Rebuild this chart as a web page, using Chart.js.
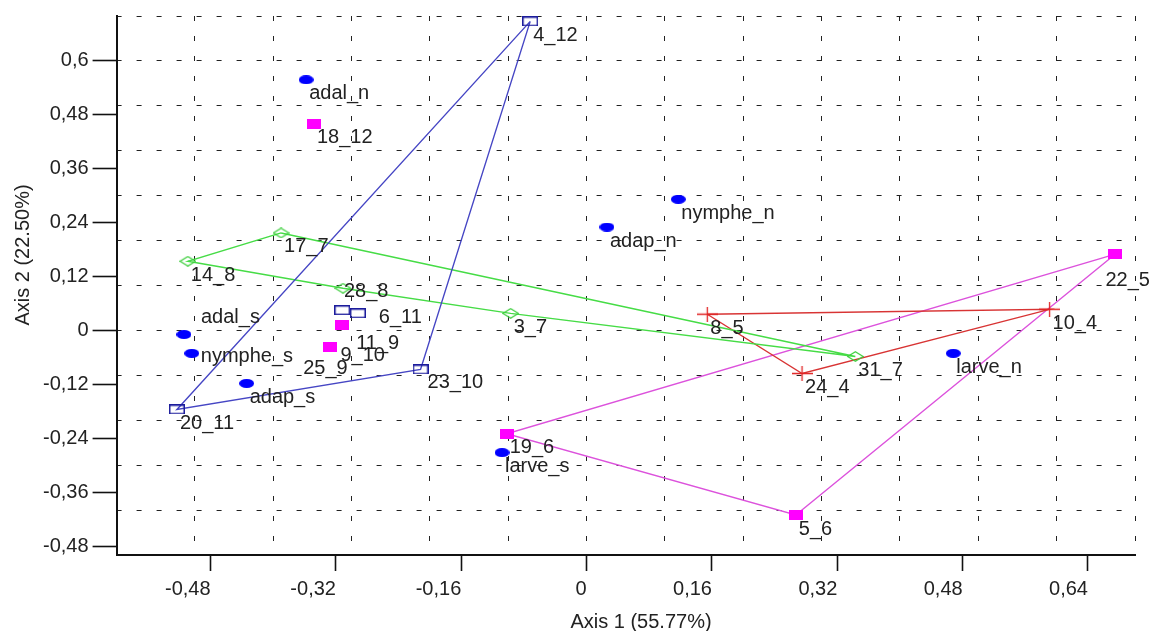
<!DOCTYPE html>
<html>
<head>
<meta charset="utf-8">
<title>Axis 1 / Axis 2</title>
<script src="https://cdn.jsdelivr.net/npm/chart.js@4.4.1/dist/chart.umd.min.js"></script>
<style>
  html, body { margin: 0; padding: 0; background: #fff; }
  #wrap { width: 1152px; height: 631px; }
</style>
</head>
<body>
<div id="wrap"><canvas id="ordination"></canvas></div>
<script>
// ---- scores on axis 1 / axis 2 ----

// life stages (filled blue ellipses)
const stageNames = ["adal_n", "adap_n", "nymphe_n", "larve_n", "adal_s", "nymphe_s", "adap_s", "larve_s"];
const stageX = [-0.358, 0.026, 0.117, 0.468, -0.514, -0.504, -0.434, -0.108];
const stageY = [0.558, 0.230, 0.292, -0.051, -0.009, -0.051, -0.118, -0.272];

// open blue squares
const autumnNames = ["4_12", "20_11", "23_10", "6_11", "25_9"];
const autumnX = [-0.072, -0.523, -0.212, -0.292, -0.312];
const autumnY = [0.688, -0.176, -0.087, 0.038, 0.045];

// open green diamonds
const summerNames = ["17_7", "14_8", "28_8", "3_7", "31_7"];
const summerX = [-0.390, -0.509, -0.311, -0.097, 0.343];
const summerY = [0.217, 0.154, 0.094, 0.038, -0.058];

// red crosses
const springNames = ["8_5", "10_4", "24_4"];
const springX = [0.154, 0.591, 0.275];
const springY = [0.036, 0.047, -0.096];

// filled magenta squares
const pinkNames = ["18_12", "11_9", "9_10", "22_5", "19_6", "5_6"];
const pinkX = [-0.348, -0.312, -0.327, 0.675, -0.102, 0.267];
const pinkY = [0.460, 0.011, -0.038, 0.170, -0.230, -0.411];

// convex hulls (vertex order)
const autumnHull = ["4_12", "20_11", "23_10"];
const summerHull = ["17_7", "14_8", "28_8", "3_7", "31_7"];
const springHull = ["8_5", "10_4", "24_4"];
const pinkHull = ["22_5", "19_6", "5_6"];

// axes
const xTicks = [-0.48, -0.32, -0.16, 0, 0.16, 0.32, 0.48, 0.64];
const yTicks = [-0.48, -0.36, -0.24, -0.12, 0, 0.12, 0.24, 0.36, 0.48, 0.6];
const xTitle = "Axis 1 (55.77%)";
const yTitle = "Axis 2 (22.50%)";

// ---- drawing setup ----
const FONT = '"Liberation Sans", Arial, sans-serif';
const TEXT = "#222";
const xMin = -0.6, xMax = 0.7, yMin = -0.5, yMax = 0.7, gridStep = 0.1;

// a few labels sit away from the default spot (px offsets)
const labelNudge = {
  "adal_s": [17, -17],
  "nymphe_s": [9, 3],
  "25_9": [-39, 58],
  "9_10": [10, 8],
  "11_9": [14, 18],
  "6_11": [21, 4],
  "28_8": [1, 3],
  "22_5": [-10, 26],
  "23_10": [7, 13]
};

function marker(w, h, draw) {
  const c = document.createElement("canvas");
  c.width = w;
  c.height = h;
  draw(c.getContext("2d"), w, h);
  return c;
}

const ellipseMark = marker(15, 9, (g, w, h) => {
  g.fillStyle = "#0000ff";
  g.beginPath();
  g.ellipse(w / 2, h / 2, w / 2, h / 2, 0, 0, Math.PI * 2);
  g.fill();
});
const openRectMark = marker(16, 10, (g, w, h) => {
  g.strokeStyle = "#1c1c9c";
  g.lineWidth = 1.5;
  g.strokeRect(0.75, 0.75, w - 1.5, h - 1.5);
});
const diamondMark = marker(17, 11, (g, w, h) => {
  g.strokeStyle = "#3fcf3f";
  g.lineWidth = 1.3;
  g.beginPath();
  g.moveTo(w / 2, 0.8);
  g.lineTo(w - 0.8, h / 2);
  g.lineTo(w / 2, h - 0.8);
  g.lineTo(0.8, h / 2);
  g.closePath();
  g.stroke();
});
const crossMark = marker(21, 15, (g, w, h) => {
  g.strokeStyle = "#e02222";
  g.lineWidth = 1.3;
  g.beginPath();
  g.moveTo(0, h / 2);
  g.lineTo(w, h / 2);
  g.moveTo(w / 2, 0);
  g.lineTo(w / 2, h);
  g.stroke();
});
const pinkMark = marker(14, 10, (g, w, h) => {
  g.fillStyle = "#ff00ff";
  g.fillRect(0, 0, w, h);
});

function points(xs, ys) {
  return xs.map((x, i) => ({ x: x, y: ys[i] }));
}

function hull(order, names, xs, ys) {
  const pts = order.map((n) => {
    const i = names.indexOf(n);
    return { x: xs[i], y: ys[i] };
  });
  pts.push(pts[0]);
  return pts;
}

function markerSet(names, xs, ys, style) {
  return {
    names: names,
    data: points(xs, ys),
    pointStyle: style,
    pointRadius: 8,
    showLine: false,
    xAxisID: "x",
    yAxisID: "y",
    order: 1
  };
}

function hullSet(order, names, xs, ys, color) {
  return {
    data: hull(order, names, xs, ys),
    showLine: true,
    borderColor: color,
    borderWidth: 1.4,
    pointRadius: 0,
    tension: 0,
    xAxisID: "x",
    yAxisID: "y",
    order: 2
  };
}

// decimal comma, no trailing zeros
function fmt(v) {
  if (Math.abs(v) < 1e-9) return "0";
  return String(+v.toFixed(2)).replace(".", ",");
}

function gridValues(min, max) {
  const out = [];
  for (let v = min; v <= max + 1e-9; v += gridStep) out.push({ value: +v.toFixed(2) });
  return out;
}

// point names beside each marker
const pointNames = {
  id: "pointNames",
  afterDatasetsDraw(chart) {
    const ctx = chart.ctx;
    ctx.save();
    ctx.font = "20px " + FONT;
    ctx.fillStyle = TEXT;
    ctx.textAlign = "left";
    ctx.textBaseline = "middle";
    chart.data.datasets.forEach((ds, i) => {
      if (!ds.names) return;
      chart.getDatasetMeta(i).data.forEach((pt, j) => {
        const name = ds.names[j];
        const d = labelNudge[name] || [3, 14];
        ctx.fillText(name, pt.x + d[0], pt.y + d[1]);
      });
    });
    ctx.restore();
  }
};

// axis titles
const axisTitles = {
  id: "axisTitles",
  afterDraw(chart) {
    const ctx = chart.ctx;
    ctx.save();
    ctx.font = "20px " + FONT;
    ctx.fillStyle = TEXT;
    ctx.textAlign = "center";
    ctx.textBaseline = "middle";
    ctx.fillText(xTitle, 641, 622);
    ctx.translate(23, 255);
    ctx.rotate(-Math.PI / 2);
    ctx.fillText(yTitle, 0, 0);
    ctx.restore();
  }
};

Chart.defaults.font.family = FONT;
Chart.defaults.font.size = 20;
Chart.defaults.color = TEXT;

const datasets = [
  markerSet(stageNames, stageX, stageY, ellipseMark),
  markerSet(autumnNames, autumnX, autumnY, openRectMark),
  markerSet(summerNames, summerX, summerY, diamondMark),
  markerSet(springNames, springX, springY, crossMark),
  markerSet(pinkNames, pinkX, pinkY, pinkMark),
  hullSet(autumnHull, autumnNames, autumnX, autumnY, "#4646c4"),
  hullSet(summerHull, summerNames, summerX, summerY, "#46dc46"),
  hullSet(springHull, springNames, springX, springY, "#d83434"),
  hullSet(pinkHull, pinkNames, pinkX, pinkY, "#dc52dc")
];

new Chart(document.getElementById("ordination"), {
  type: "scatter",
  data: { datasets: datasets },
  options: {
    responsive: true,
    maintainAspectRatio: false,
    animation: false,
    layout: { padding: { left: 39, right: 17, top: 15, bottom: 24 } },
    plugins: {
      legend: { display: false },
      tooltip: { enabled: false }
    },
    scales: {
      x: {
        type: "linear",
        position: "bottom",
        min: xMin,
        max: xMax,
        afterBuildTicks: (s) => { s.ticks = xTicks.map((v) => ({ value: v })); },
        ticks: { align: "end", padding: 6, autoSkip: false, maxRotation: 0, callback: fmt },
        grid: { drawOnChartArea: false, tickLength: 16, tickColor: "#111", tickWidth: 1.6 },
        border: { color: "#111", width: 2 }
      },
      y: {
        type: "linear",
        position: "left",
        min: yMin,
        max: yMax,
        afterBuildTicks: (s) => { s.ticks = yTicks.map((v) => ({ value: v })); },
        ticks: { padding: 4, autoSkip: false, callback: fmt },
        grid: { drawOnChartArea: false, tickLength: 24, tickColor: "#111", tickWidth: 1.6 },
        border: { color: "#111", width: 2 }
      },
      xg: {
        type: "linear",
        position: "top",
        min: xMin,
        max: xMax,
        afterBuildTicks: (s) => { s.ticks = gridValues(xMin, xMax); },
        ticks: { display: false },
        grid: { color: "#222", lineWidth: 1, drawTicks: false },
        border: { display: false, dash: [5, 15] }
      },
      yg: {
        type: "linear",
        position: "right",
        min: yMin,
        max: yMax,
        afterBuildTicks: (s) => { s.ticks = gridValues(yMin, yMax); },
        ticks: { display: false },
        grid: { color: "#222", lineWidth: 1, drawTicks: false },
        border: { display: false, dash: [5, 15] }
      }
    }
  },
  plugins: [pointNames, axisTitles]
});
</script>
</body>
</html>
